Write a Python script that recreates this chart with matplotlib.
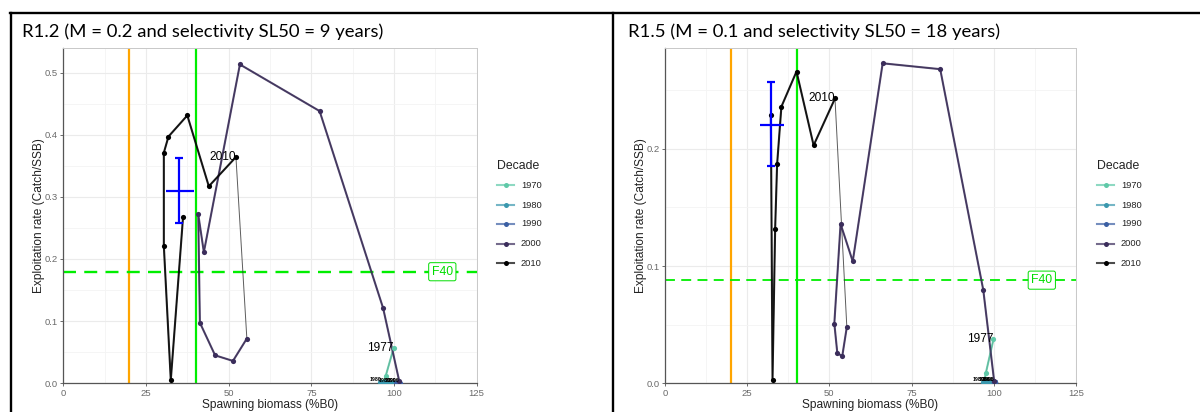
import matplotlib
matplotlib.use("Agg")
import matplotlib.pyplot as plt
from matplotlib.lines import Line2D
import numpy as np

# ---------------- data ----------------
decades = [1970, 1980, 1990, 2000, 2010]
decade_colors = ["#5FC9A8", "#3A98AE", "#3B5FA3", "#3B2D5B", "#000000"]

years = list(range(1977, 2018))

# R1.2 panel
ssb_a = [99.9, 97.5, 97.0,
         96.2, 95.8, 96.5, 97.3, 97.9, 98.4, 98.9, 99.4, 99.9, 100.3,
         100.6, 100.9, 101.1, 101.2, 101.3, 101.4, 101.5, 101.6, 101.6, 101.7,
         101.6, 96.7, 77.5, 53.4, 42.5, 40.8, 41.3, 45.9, 51.3, 55.5,
         52.2, 44.0, 37.5, 31.8, 30.4, 30.4, 32.5, 36.2]
er_a = [0.057, 0.012, 0.004,
        0.002, 0.002, 0.001, 0.002, 0.001, 0.001, 0.001, 0.001, 0.001, 0.001,
        0.001, 0.001, 0.001, 0.001, 0.001, 0.001, 0.001, 0.001, 0.001, 0.001,
        0.003, 0.121, 0.438, 0.513, 0.211, 0.272, 0.0975, 0.045, 0.036, 0.072,
        0.364, 0.317, 0.431, 0.397, 0.371, 0.221, 0.005, 0.267]
cur_a = dict(x=35.0, y=0.309, xlo=31.2, xhi=39.5, ylo=0.258, yhi=0.363)
f40_a = 0.1795
ymax_a = 0.539

# R1.5 panel
ssb_b = [99.9, 97.6, 97.2,
         97.0, 96.8, 97.3, 97.8, 98.2, 98.6, 99.0, 99.3, 99.6, 99.9,
         100.0, 100.1, 100.1, 100.2, 100.2, 100.3, 100.3, 100.4, 100.4, 100.4,
         100.1, 96.8, 83.7, 66.2, 57.1, 53.4, 51.5, 52.4, 53.9, 55.3,
         51.7, 45.2, 40.0, 35.4, 34.1, 33.5, 32.7, 32.2]
er_b = [0.0375, 0.009, 0.003,
        0.001, 0.001, 0.001, 0.001, 0.001, 0.001, 0.001, 0.001, 0.001, 0.001,
        0.001, 0.001, 0.001, 0.001, 0.001, 0.001, 0.001, 0.001, 0.001, 0.001,
        0.002, 0.0796, 0.268, 0.273, 0.104, 0.136, 0.051, 0.026, 0.023, 0.048,
        0.243, 0.203, 0.266, 0.236, 0.187, 0.132, 0.003, 0.229]
cur_b = dict(x=32.2, y=0.2204, xlo=28.9, xhi=36.3, ylo=0.185, yhi=0.257)
f40_b = 0.088
ymax_b = 0.2858

titles = ["R1.2 (M = 0.2 and selectivity SL50 = 9 years)",
          "R1.5 (M = 0.1 and selectivity SL50 = 18 years)"]
x_ticks = [0, 25, 50, 75, 100, 125]
labelled_years = [1977, 2010]
small_label_years = [1980, 1986, 1990, 1996]

W, H = 1200, 412
fig = plt.figure(figsize=(W / 100, H / 100), dpi=100)
fig.patch.set_facecolor("white")

def fx(px):
    return px / W

def fy(py):
    return 1 - py / H

# table borders
fig.add_artist(Line2D([fx(10), 1.0], [fy(13), fy(13)], color="black", lw=1.7))
fig.add_artist(Line2D([fx(11), fx(11)], [fy(13), 0], color="black", lw=1.7))
fig.add_artist(Line2D([fx(612.5), fx(612.5)], [fy(13), 0], color="black", lw=1.7))

FONT = "Liberation Sans"

def decade_of(y):
    return (y // 10) * 10

def draw_panel(ax, ssb, er, cur, f40, ymax, yticks, dash_lw):
    ax.set_xlim(0, 125)
    ax.set_ylim(0, ymax)
    ax.set_xticks(x_ticks)
    ax.set_xticks(np.arange(12.5, 125, 25), minor=True)
    ax.set_yticks(yticks)
    ax.set_yticks(np.arange(0.05, ymax, 0.1), minor=True)
    ax.grid(which="major", color="#EBEBEB", lw=0.8)
    ax.grid(which="minor", color="#F4F4F4", lw=0.6)
    ax.set_axisbelow(True)
    for s in ["top", "right"]:
        ax.spines[s].set_color("#C8C8C8")
        ax.spines[s].set_linewidth(0.7)
    for s in ["left", "bottom"]:
        ax.spines[s].set_color("#555555")
        ax.spines[s].set_linewidth(0.9)
    ax.tick_params(which="major", length=2.5, width=0.6, color="#555555",
                   labelsize=6.8, labelcolor="#6A6A6A", pad=1.5)
    ax.tick_params(which="minor", length=0)
    ax.set_yticklabels([f"{t:.1f}" for t in yticks], fontfamily=FONT)
    ax.set_xticklabels([str(t) for t in x_ticks], fontfamily=FONT)
    ax.set_xlabel("Spawning biomass (%B0)", fontsize=8.6, fontfamily=FONT,
                  color="#222222", labelpad=1.0)
    ax.set_ylabel("Exploitation rate (Catch/SSB)", fontsize=8.6, fontfamily=FONT,
                  color="#222222", labelpad=-0.5)

    # reference lines
    ax.axvline(20, color="#FFA500", lw=1.6, zorder=2)
    ax.axvline(40, color="#00EE00", lw=1.6, zorder=2)
    ax.axhline(f40, color="#00EE00", lw=dash_lw, ls=(0, (5.5, 3.5)), zorder=2)

    # thin full path
    ax.plot(ssb, er, color="#333333", lw=0.7, alpha=0.8, zorder=3)
    yrs = np.array(years)
    ssb = np.array(ssb)
    er = np.array(er)
    dec = np.array([decade_of(y) for y in years])
    for d, c in zip(decades, decade_colors):
        m = dec == d
        ax.plot(ssb[m], er[m], color=c, lw=1.5, alpha=0.85, zorder=4,
                solid_capstyle="round")
        ax.scatter(ssb[m], er[m], color=c, s=14, zorder=5, linewidths=0)

    # tiny crowded year labels near zero
    for y, xv, yv in zip(yrs, ssb, er):
        if y in small_label_years:
            ax.text(xv, yv + 0.002 * ymax / 0.3, str(y), fontsize=3.8, ha="right",
                    va="center", fontfamily=FONT, color="black", zorder=6,
                    fontweight="bold")
    for y in labelled_years:
        i = years.index(y)
        ax.text(ssb[i], er[i], str(y), fontsize=8.6, ha="right", va="center",
                fontfamily=FONT, color="black", zorder=6)

    # current estimate cross
    ax.errorbar([cur["x"]], [cur["y"]],
                yerr=[[cur["y"] - cur["ylo"]], [cur["yhi"] - cur["y"]]],
                color="#0000FF", lw=1.6, capsize=3, capthick=1.6, zorder=7,
                fmt="none")
    ax.errorbar([cur["x"]], [cur["y"]],
                xerr=[[cur["x"] - cur["xlo"]], [cur["xhi"] - cur["x"]]],
                color="#0000FF", lw=1.6, capsize=0, zorder=7, fmt="none")

    ax.text(114.6, f40, "F40", fontsize=8.8, color="#00DD00", ha="center",
            va="center", fontfamily=FONT, zorder=8,
            bbox=dict(boxstyle="round,pad=0.25,rounding_size=0.15", fc="white",
                      ec="#00DD00", lw=0.7))

def draw_legend(x0):
    fig.text(fx(x0), fy(166), "Decade", fontsize=8.8, fontfamily=FONT,
             color="#222222", ha="left", va="center")
    ys = [185, 205, 224, 243.5, 263]
    for yy, d, c in zip(ys, decades, decade_colors):
        fig.add_artist(Line2D([fx(x0), fx(x0 + 17)], [fy(yy), fy(yy)], color=c,
                              lw=1.5, alpha=0.7))
        fig.add_artist(Line2D([fx(x0 + 8.5)], [fy(yy)], color=c, marker="o",
                              markersize=3.6, lw=0, markeredgewidth=0))
        fig.text(fx(x0 + 24), fy(yy), str(d), fontsize=6.7, fontfamily=FONT,
                 color="#222222", ha="left", va="center")

# panel A
axA = fig.add_axes([fx(63.3), fy(383.3), fx(476.7 - 63.3), (383.3 - 48.3) / H])
draw_panel(axA, ssb_a, er_a, cur_a, f40_a, ymax_a, [0.0, 0.1, 0.2, 0.3, 0.4, 0.5], 1.7)
draw_legend(497)

# panel B
axB = fig.add_axes([fx(665), fy(383.3), fx(1076 - 665), (383.3 - 48.3) / H])
draw_panel(axB, ssb_b, er_b, cur_b, f40_b, ymax_b, [0.0, 0.1, 0.2], 1.3)
draw_legend(1097)

fig.text(fx(22), fy(37), titles[0], fontsize=13.3, fontfamily="Lato",
         ha="left", va="baseline", color="black")
fig.text(fx(628), fy(37), titles[1], fontsize=13.3, fontfamily="Lato",
         ha="left", va="baseline", color="black")

fig.savefig("out.png", dpi=100, facecolor="white")
